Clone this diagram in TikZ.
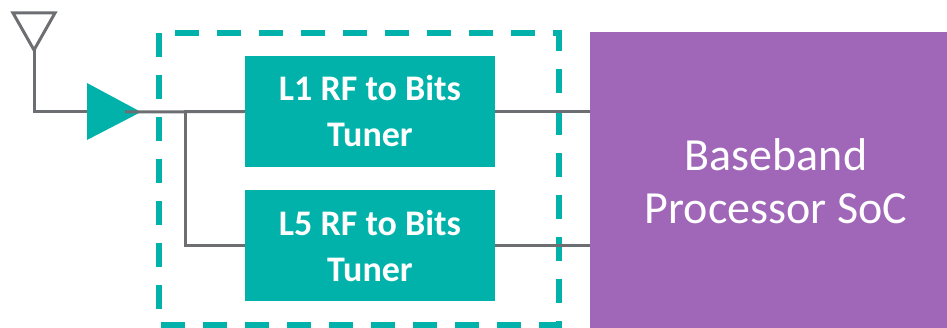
\documentclass[tikz,border=0pt]{standalone}
\usepackage{fontspec}
\setmainfont{Carlito}
\usepackage{xcolor}
\usepackage{tikz}
\usetikzlibrary{positioning}

\definecolor{tunerteal}{HTML}{00B2A9}
\definecolor{wiregray}{HTML}{6D6E71}
\definecolor{socpurple}{HTML}{A066B8}

\begin{document}
\begin{tikzpicture}[x=1pt,y=-1pt,
		wire/.style={draw=wiregray, line width=3pt},
		tuner/.style={shape=rectangle, fill=tunerteal, text=white, inner sep=0pt, minimum width=250pt, minimum height=111pt, align=center, font=\bfseries\fontsize{36}{46}\selectfont},
		socbox/.style={shape=rectangle, fill=socpurple, text=white, inner sep=0pt, minimum width=372pt, minimum height=298pt, align=center, font=\fontsize{46}{53}\selectfont}]
			\useasboundingbox (0,0) rectangle (947,328);

			%% antenna and amplifier
			\coordinate (ant) at (34,50);
			\coordinate (ampin) at (87,112);
			\coordinate (amptip) at (141,112);
			\coordinate (ampout) at (125,112);
			\coordinate (split) at (185,112);
			\draw[wire, line join=miter] (13,13) -- (55,13) -- (ant) -- cycle;
			\draw[wire] (ant) |- (ampin);
			\fill[tunerteal] (87,83) -- (amptip) -- (87,140) -- cycle;

			%% tuner module
			\draw[tunerteal, line width=5.5pt, dash pattern=on 24pt off 18pt] (159,33) rectangle (559,325);
			\node[tuner] (l1) at (370,111.5) {L1 RF to Bits\\Tuner};
			\node[tuner] (l5) at (370,246) {L5 RF to Bits\\Tuner};

			%% baseband
			\node[socbox] (soc) at (776,181) {Baseband\\Processor SoC};

			%% lines
			\draw[wire] (ampout) -- (l1.west);
			\draw[wire] (split) |- (l5.west);
			\draw[wire] (l1.east) -- (soc.west |- l1.east);
			\draw[wire] (l5.east) -- (soc.west |- l5.east);
\end{tikzpicture}
\end{document}
